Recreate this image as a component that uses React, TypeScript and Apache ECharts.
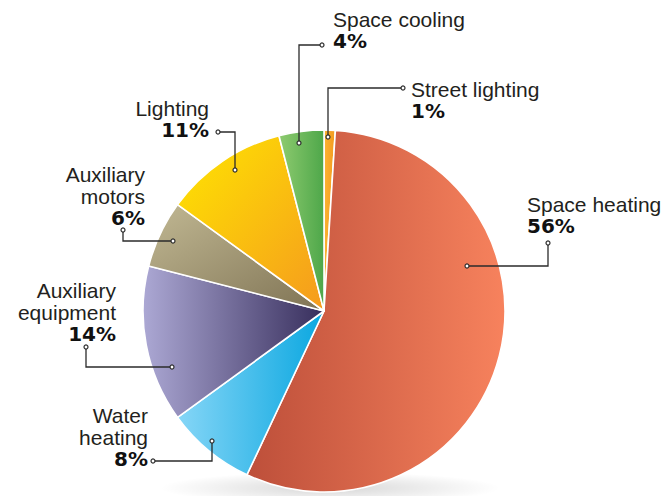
import React, { useEffect, useRef } from "react";
import * as echarts from "echarts";

// ---- data ----
const categories = [
  "Street lighting",
  "Space heating",
  "Water heating",
  "Auxiliary equipment",
  "Auxiliary motors",
  "Lighting",
  "Space cooling",
];
const shares = [1, 56, 8, 14, 6, 11, 4];
const labelNameLines = [
  ["Street lighting"],
  ["Space heating"],
  ["Water", "heating"],
  ["Auxiliary", "equipment"],
  ["Auxiliary", "motors"],
  ["Lighting"],
  ["Space cooling"],
];

// ---- styles / layout ----
const sliceGradients: [number, number, number, number, string, string][] = [
  [0, 0, 1, 0, "#fbb333", "#f39a1e"],
  [0, 0, 1, 0, "#bd4f3a", "#f7825d"],
  [0, 0, 1, 0, "#86d6f7", "#0aa7e0"],
  [0, 0, 1, 0, "#aca8d4", "#372e5c"],
  [0, 0, 1, 1, "#c1b893", "#7f7354"],
  [0, 0, 1, 1, "#ffe600", "#f59a1e"],
  [0, 0, 1, 0, "#8ecb6f", "#4ea74a"],
];
// label text anchor: x, first baseline, align
const labelPos: [number, number, "left" | "right"][] = [
  [411, 97, "left"],
  [527, 212, "left"],
  [148, 423, "right"],
  [116, 298, "right"],
  [145, 182, "right"],
  [209, 116, "right"],
  [333, 27, "left"],
];
// leader line points (label end first, slice end last)
const leaders: number[][][] = [
  [[403, 88], [328, 88], [328, 137]],
  [[548, 243], [548, 266], [467, 266]],
  [[153, 461], [212, 461], [212, 441]],
  [[86, 347], [86, 367], [172, 367]],
  [[123, 230], [123, 241], [173, 241]],
  [[218, 132], [235, 132], [235, 170]],
  [[322, 45], [299, 45], [299, 143]],
];

const LINE_H = 21.3;

export default function App() {
  const ref = useRef<HTMLDivElement>(null);
  useEffect(() => {
    if (!ref.current) return;
    const chart = echarts.init(ref.current, undefined, { renderer: "svg" });

    const graphics: any[] = [];
    graphics.push({
      type: "ellipse",
      z: -10,
      shape: { cx: 330, cy: 488, rx: 170, ry: 16 },
      style: {
        fill: new echarts.graphic.RadialGradient(0.5, 0.5, 0.5, [
          { offset: 0, color: "rgba(0,0,0,0.16)" },
          { offset: 1, color: "rgba(0,0,0,0)" },
        ]),
      },
      silent: true,
    });

    categories.forEach((_, i) => {
      const [x, baseline, align] = labelPos[i];
      const lines = labelNameLines[i];
      lines.forEach((t, k) => {
        graphics.push({
          type: "text",
          z: 10,
          x,
          y: baseline + k * LINE_H - 7.3,
          style: {
            text: t,
            fontSize: 21,
            fontFamily: "Liberation Sans, Arial, sans-serif",
            fill: "#231f20",
            align,
            verticalAlign: "middle",
          },
        });
      });
      graphics.push({
        type: "text",
        z: 10,
        x,
        y: baseline + lines.length * LINE_H - 7,
        style: {
          text: shares[i] + "%",
          fontSize: 20,
          fontWeight: "bold",
          fontFamily: "DejaVu Sans, sans-serif",
          fill: "#111",
          align,
          verticalAlign: "middle",
        },
      });
      const pts = leaders[i];
      graphics.push({
        type: "polyline",
        z: 10,
        shape: { points: pts },
        style: { stroke: "#2b2b2b", lineWidth: 1.3, fill: null },
      });
      [pts[0], pts[pts.length - 1]].forEach((p) => {
        graphics.push({
          type: "circle",
          z: 11,
          shape: { cx: p[0], cy: p[1], r: 2 },
          style: { fill: "#fff", stroke: "#2b2b2b", lineWidth: 1.2 },
        });
      });
    });

    const data = categories.map((name, i) => {
      const g = sliceGradients[i];
      return {
        name,
        value: shares[i],
        itemStyle: {
          color: new echarts.graphic.LinearGradient(g[0], g[1], g[2], g[3], [
            { offset: 0, color: g[4] },
            { offset: 1, color: g[5] },
          ]),
        },
      };
    });

    chart.setOption({
      animation: false,
      backgroundColor: "#ffffff",
      series: [
        {
          type: "pie",
          center: [324, 311],
          radius: [0, 181],
          startAngle: 90,
          clockwise: true,
          silent: true,
          label: { show: false },
          labelLine: { show: false },
          itemStyle: { borderColor: "#ffffff", borderWidth: 1.6 },
          emphasis: { disabled: true },
          data,
        },
      ],
      graphic: graphics,
    });
    return () => chart.dispose();
  }, []);

  return (
    <div
      ref={ref}
      style={{ position: "fixed", left: 0, top: 0, width: 666, height: 496 }}
    />
  );
}
